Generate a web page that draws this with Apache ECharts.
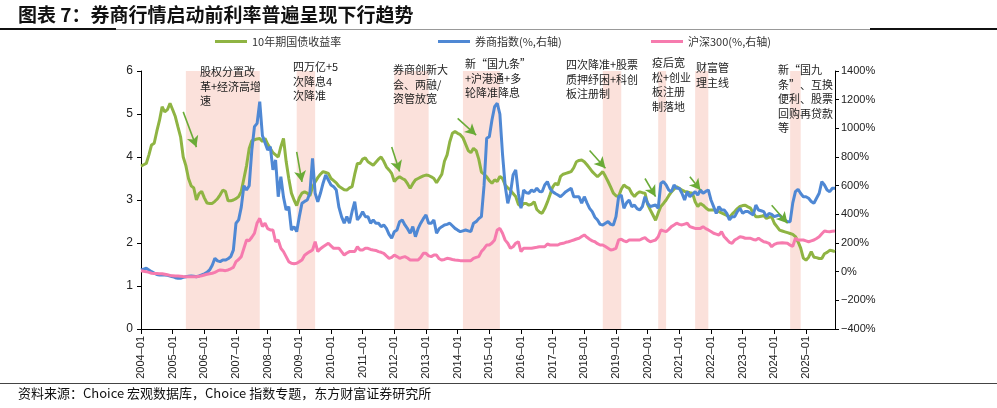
<!DOCTYPE html>
<html><head><meta charset="utf-8">
<script src="https://cdn.jsdelivr.net/npm/echarts@6/dist/echarts.min.js"></script>
<style>html,body{margin:0;padding:0;background:#fff}#c{width:997px;height:408px}</style>
</head><body><div id="c"></div>
<script>
// ---- data ----
const startYear = 2004, endYear = 2025;
const categories = [];
for (let y = startYear; y <= endYear; y++) for (let m = 1; m <= 12; m++) categories.push(y + '-' + (m < 10 ? '0' + m : m));

const yield10y = [
 3.79,3.82,3.85,4.05,4.28,4.32,4.60,4.85,5.17,5.05,5.10,5.25,
 5.10,4.94,4.70,4.47,4.00,3.80,3.50,3.33,3.28,3.00,3.15,3.20,
 3.05,2.93,2.92,2.92,2.97,3.03,3.12,3.23,3.20,2.98,2.98,3.00,
 3.03,3.08,3.20,3.50,3.80,4.20,4.38,4.40,4.42,4.43,4.36,4.43,
 4.30,4.20,4.10,4.05,4.00,4.24,4.43,3.90,3.50,3.16,3.00,2.87,
 3.05,3.16,3.19,3.16,3.10,3.30,3.42,3.52,3.60,3.66,3.64,3.62,
 3.50,3.45,3.40,3.32,3.28,3.24,3.23,3.28,3.31,3.60,3.85,3.85,
 3.95,3.98,3.89,3.85,3.81,3.88,3.95,4.00,3.90,3.77,3.70,3.62,
 3.43,3.50,3.54,3.50,3.47,3.38,3.27,3.38,3.47,3.50,3.53,3.56,
 3.58,3.57,3.54,3.50,3.40,3.50,3.60,3.90,4.05,4.35,4.55,4.59,
 4.55,4.52,4.45,4.30,4.15,4.10,4.20,4.15,3.95,3.65,3.60,3.54,
 3.45,3.39,3.47,3.43,3.55,3.50,3.35,3.28,3.23,3.15,3.08,2.90,
 2.85,2.92,2.92,2.88,2.90,2.96,2.78,2.72,2.69,2.80,2.95,3.12,
 3.30,3.39,3.35,3.55,3.60,3.62,3.64,3.66,3.75,3.89,3.92,3.93,
 3.89,3.82,3.74,3.66,3.60,3.54,3.60,3.66,3.55,3.43,3.30,3.16,
 3.10,3.08,3.25,3.35,3.30,3.27,3.15,3.08,3.15,3.19,3.17,3.16,
 2.90,2.77,2.65,2.53,2.70,2.85,2.92,3.00,3.10,3.19,3.25,3.31,
 3.27,3.23,3.20,3.19,3.17,3.16,2.96,2.85,2.92,2.88,2.82,2.77,
 2.77,2.77,2.75,2.73,2.70,2.67,2.64,2.60,2.67,2.73,2.80,2.85,
 2.87,2.88,2.84,2.81,2.70,2.61,2.61,2.62,2.64,2.57,2.60,2.61,
 2.46,2.38,2.30,2.28,2.26,2.24,2.22,2.20,2.15,2.03,1.88,1.65,
 1.60,1.67,1.80,1.67,1.66,1.64,1.64,1.75,1.78,1.83,1.82,1.80
];
const brokerIdx = [
 12,18,24,12,0,-10,-20,-23,-23,-23,-26,-30,
 -35,-42,-46,-46,-40,-35,-32,-30,-32,-35,-30,-23,
 -15,-5,12,45,93,75,70,81,81,90,105,150,
 338,361,450,600,570,600,850,1012,1035,1186,950,900,
 849,872,710,779,523,663,520,430,454,291,314,279,
 384,477,490,500,547,791,547,488,547,617,675,640,
 605,593,570,450,384,338,384,338,420,488,361,384,
 419,384,384,338,361,338,338,314,326,302,260,233,
 279,291,349,361,326,300,268,314,244,300,338,370,
 396,338,338,361,268,300,314,326,330,338,320,302,
 290,279,285,291,285,279,338,349,370,384,600,930,
 942,1058,1151,1175,1100,820,600,477,547,675,710,547,
 442,570,550,547,570,558,582,560,558,605,628,580,
 558,545,535,523,540,558,570,582,523,523,523,477,
 523,480,442,419,380,361,330,326,338,349,330,326,
 384,523,535,442,480,500,454,465,440,430,454,523,
 477,454,460,465,442,617,628,605,570,558,605,582,
 582,547,500,558,523,540,558,535,570,547,560,570,
 500,454,407,454,430,430,407,361,384,384,419,442,
 407,419,419,407,396,465,430,425,419,384,407,400,
 384,390,396,375,361,349,349,480,558,575,545,523,
 523,512,490,477,512,547,628,605,570,558,582,582
];
const hs300 = [
 7,3,0,-5,-11,-12,-13,-14,-14,-18,-22,-26,
 -28,-30,-30,-32,-34,-35,-35,-35,-35,-35,-32,-28,
 -23,-18,-14,-11,-5,5,12,10,7,12,20,30,
 70,85,105,163,221,216,240,268,340,372,314,338,
 300,291,291,209,221,163,140,105,70,58,55,58,
 70,81,115,128,140,151,209,140,160,174,186,198,
 180,163,163,163,140,116,130,140,140,140,174,151,
 151,163,163,155,151,148,140,135,128,110,93,100,
 116,105,93,100,105,95,81,81,81,81,100,128,
 128,110,105,116,116,90,81,85,93,90,85,81,
 80,77,77,77,77,77,93,100,105,140,160,186,
 186,200,221,291,302,268,220,198,163,174,198,209,
 140,163,163,163,163,167,170,174,174,174,193,186,
 186,186,186,195,198,205,209,215,221,228,233,245,
 256,240,226,215,209,195,186,186,175,163,151,155,
 163,221,226,215,209,221,221,221,221,221,230,237,
 220,209,215,221,244,291,285,279,295,314,325,338,
 330,326,332,338,314,308,302,302,302,314,300,291,
 280,268,262,256,279,244,225,205,198,221,232,244,
 240,233,233,233,225,221,233,220,209,205,198,174,
 190,198,200,202,200,198,185,177,233,221,221,221,
 215,209,215,221,232,244,265,284,280,279,282,284
];
const seriesNames = ['10年期国债收益率', '券商指数(%,右轴)', '沪深300(%,右轴)'];
const shadedPeriods = [
 ['2005-06','2007-10'], ['2008-12','2009-07'], ['2012-01','2013-02'], ['2014-03','2015-05'],
 ['2018-08','2019-03'], ['2020-05','2020-08'], ['2021-07','2021-12'], ['2024-07','2024-11']
];
// arrows: [startMonth, startYield, endMonth, endYield]
const arrows = [
 ['2005-05',5.05,'2005-10',4.23], ['2008-12',4.12,'2009-02',3.42], ['2011-12',4.23,'2012-03',3.66],
 ['2014-01',4.90,'2014-08',4.51], ['2018-03',4.15,'2018-09',3.74], ['2019-12',3.50,'2020-04',3.08],
 ['2021-05',3.54,'2021-09',3.23], ['2023-12',2.88,'2024-06',2.46]
];
const notes = [
 ['股权分置改\n革+经济高增\n速', 200, 65],
 ['四万亿+5\n次降息4\n次降准', 293, 60],
 ['券商创新大\n会、两融/\n资管放宽', 393, 63],
 ['新“国九条”\n+沪港通+多\n轮降准降息', 465, 57],
 ['四次降准+股票\n质押纾困+科创\n板注册制', 566, 58],
 ['疫后宽\n松+创业\n板注册\n制落地', 652, 56],
 ['财富管\n理主线', 696, 61],
 ['新“国九\n条”、互换\n便利、股票\n回购再贷款\n等', 778, 63]
];
const leftTicks = {min: 0, max: 6, interval: 1};
const rightTicks = {min: -400, max: 1400, interval: 200};

// ---- chart ----
const FONT = '"Liberation Sans", Arial, "Noto Sans CJK SC", sans-serif';
const CJK = '"Noto Sans CJK SC", sans-serif';
const colors = ['#8fb443', '#4f88d4', '#f67bae'];
const chart = echarts.init(document.getElementById('c'), null, {renderer: 'canvas'});

const legendCommon = {top: 31, itemWidth: 32, itemHeight: 3, icon: 'rect', itemGap: 5,
  textStyle: {fontSize: 11, color: '#333', fontFamily: CJK}};

const option = {
  animation: false,
  textStyle: {fontFamily: FONT},
  grid: {left: 141, right: 162, top: 71, bottom: 79},
  legend: [
    Object.assign({left: 210, data: [seriesNames[0]]}, legendCommon),
    Object.assign({left: 433, data: [seriesNames[1]]}, legendCommon),
    Object.assign({left: 646, data: [seriesNames[2]]}, legendCommon)
  ],
  xAxis: {
    type: 'category', data: categories, boundaryGap: false,
    axisLine: {lineStyle: {color: '#000', width: 1}},
    axisTick: {interval: 11, length: 5, lineStyle: {color: '#000'}},
    axisLabel: {interval: 11, rotate: 90, fontSize: 11, color: '#222', margin: 7,
      fontFamily: FONT, formatter: v => v.replace('-', '–')},
    splitLine: {show: false}
  },
  yAxis: [
    {type: 'value', min: leftTicks.min, max: leftTicks.max, interval: leftTicks.interval, position: 'left',
     axisLine: {show: true, lineStyle: {color: '#000'}}, axisTick: {show: true, length: 4, lineStyle: {color: '#000'}},
     axisLabel: {fontSize: 12, color: '#222', margin: 8}, splitLine: {show: false}},
    {type: 'value', min: rightTicks.min, max: rightTicks.max, interval: rightTicks.interval, position: 'right',
     axisLine: {show: true, lineStyle: {color: '#000'}}, axisTick: {show: true, length: 4, lineStyle: {color: '#000'}},
     axisLabel: {fontSize: 11, color: '#222', margin: 6, formatter: v => (v < 0 ? '−' + Math.abs(v) : String(v)) + '%'},
     splitLine: {show: false}}
  ],
  series: [
    {name: seriesNames[0], type: 'line', data: yield10y, yAxisIndex: 0, showSymbol: false, symbol: 'none',
     lineStyle: {color: colors[0], width: 3}, itemStyle: {color: colors[0]}, z: 3,
     markArea: {silent: true, itemStyle: {color: '#fbe1db'}, z: 1,
       data: shadedPeriods.map(p => [{xAxis: p[0]}, {xAxis: p[1]}])},
     markLine: {silent: true, symbol: ['none', 'arrow'], symbolSize: [9, 11], label: {show: false},
       lineStyle: {color: '#6aab37', width: 1.6, type: 'solid'},
       data: arrows.map(a => [{coord: [a[0], a[1]]}, {coord: [a[2], a[3]]}])}},
    {name: seriesNames[1], type: 'line', data: brokerIdx, yAxisIndex: 1, showSymbol: false, symbol: 'none',
     lineStyle: {color: colors[1], width: 3}, itemStyle: {color: colors[1]}, z: 4},
    {name: seriesNames[2], type: 'line', data: hs300, yAxisIndex: 1, showSymbol: false, symbol: 'none',
     lineStyle: {color: colors[2], width: 3}, itemStyle: {color: colors[2]}, z: 5}
  ],
  graphic: [
    {type: 'text', left: 18, top: 5, style: {text: '图表 7：券商行情启动前利率普遍呈现下行趋势',
      font: 'bold 19px ' + CJK, fill: '#111'}},
    {type: 'rect', left: 0, top: 28, shape: {width: 116, height: 2}, style: {fill: '#111'}},
    {type: 'rect', left: 116, top: 29, shape: {width: 754, height: 1}, style: {fill: '#999'}},
    {type: 'rect', left: 870, top: 28, shape: {width: 127, height: 2}, style: {fill: '#111'}},
    {type: 'rect', left: 0, top: 383, shape: {width: 997, height: 1}, style: {fill: '#444'}},
    {type: 'text', left: 18, top: 387, style: {text: '资料来源：Choice 宏观数据库，Choice 指数专题，东方财富证券研究所',
      font: '13px ' + CJK, fill: '#111'}}
  ].concat(notes.map(n => ({type: 'text', left: n[1], top: n[2], z: 10,
      style: {text: n[0], font: '11px ' + CJK, fill: '#222', lineHeight: 14.5}})))
};
chart.setOption(option);
</script></body></html>
